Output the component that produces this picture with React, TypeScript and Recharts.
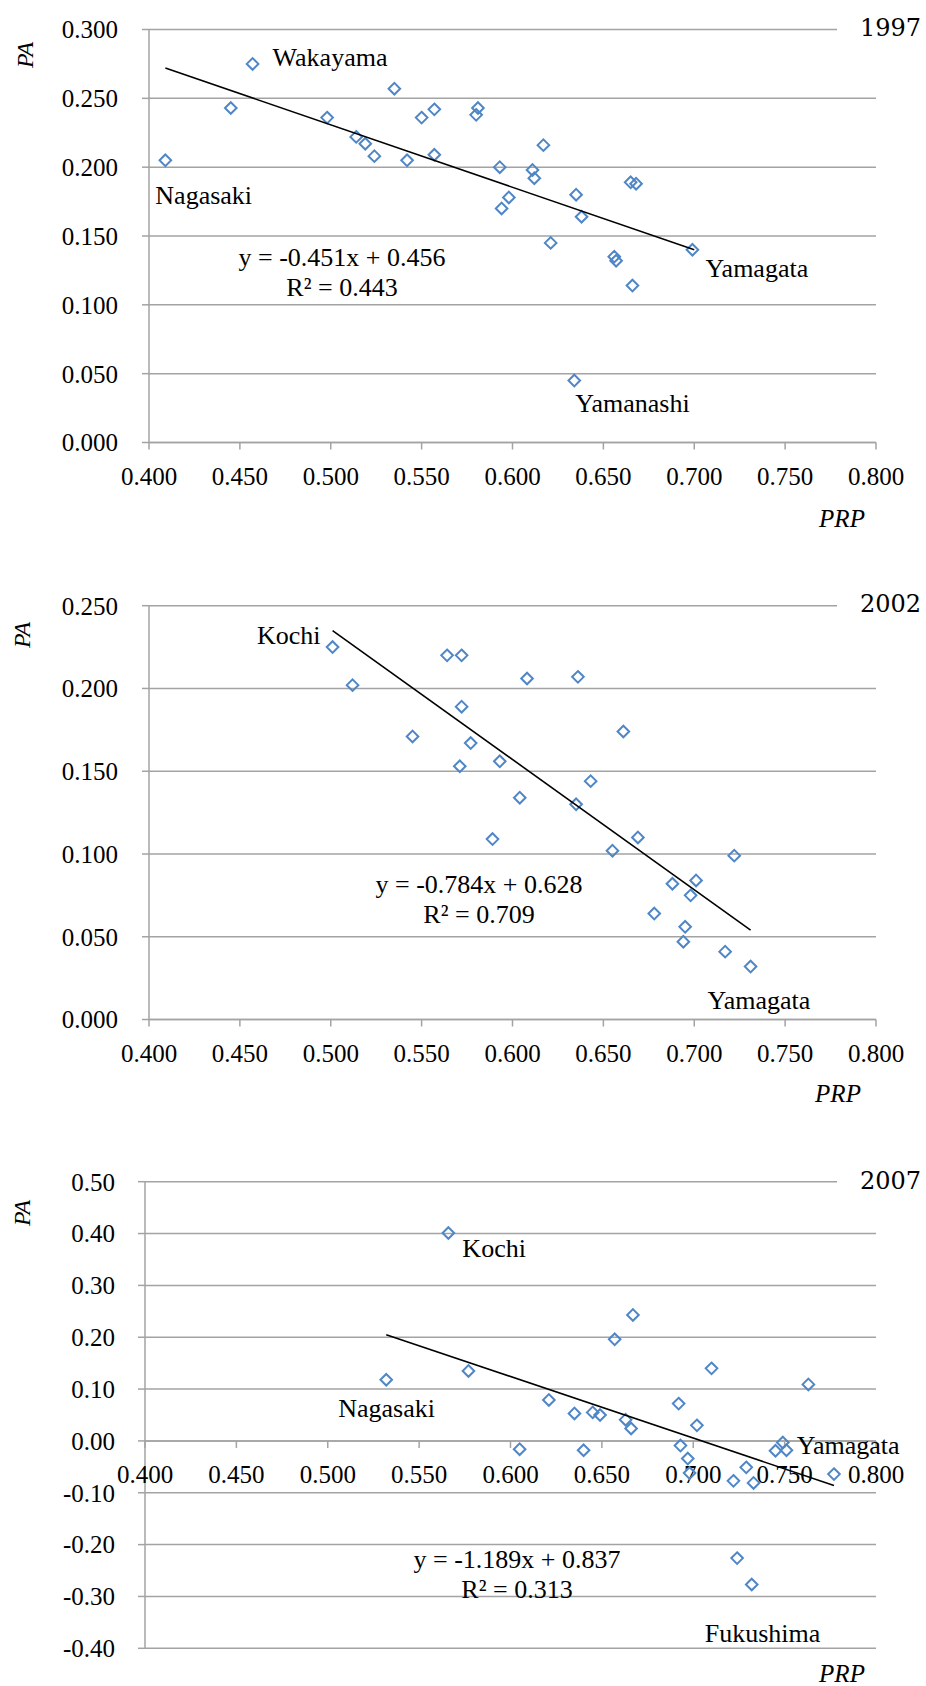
import React from "react";
import { ScatterChart, Scatter, XAxis, YAxis, CartesianGrid, ReferenceLine } from "recharts";

const SERIF = '"Liberation Serif", "Times New Roman", serif';
const BLUE = "#4f86c6";
const GRID = "#a3a3a3";

// axis ticks
const prpTicks = [0.4, 0.45, 0.5, 0.55, 0.6, 0.65, 0.7, 0.75, 0.8];
const paTicks1997 = [0, 0.05, 0.1, 0.15, 0.2, 0.25, 0.3];
const paTicks2002 = [0, 0.05, 0.1, 0.15, 0.2, 0.25];
const paTicks2007 = [-0.4, -0.3, -0.2, -0.1, 0, 0.1, 0.2, 0.3, 0.4, 0.5];

// 1997
const prp1997 = [0.409, 0.445, 0.457, 0.498, 0.514, 0.519, 0.524, 0.535, 0.542, 0.55, 0.557, 0.557, 0.58, 0.581, 0.593, 0.598, 0.594, 0.611, 0.612, 0.617, 0.635, 0.638, 0.621, 0.656, 0.657, 0.665, 0.668, 0.666, 0.699, 0.634];
const pa1997 = [0.205, 0.243, 0.275, 0.236, 0.222, 0.217, 0.208, 0.257, 0.205, 0.236, 0.242, 0.209, 0.238, 0.243, 0.2, 0.178, 0.17, 0.198, 0.192, 0.216, 0.18, 0.164, 0.145, 0.135, 0.132, 0.189, 0.188, 0.114, 0.14, 0.045];
const trendX1997 = [0.409, 0.7];
const trendY1997 = [0.272, 0.14];
const names1997 = ["Nagasaki", "Wakayama", "Yamagata", "Yamanashi"];
const nameIdx1997 = [0, 2, 28, 29];

// 2002
const prp2002 = [0.501, 0.512, 0.545, 0.564, 0.572, 0.572, 0.571, 0.577, 0.608, 0.636, 0.661, 0.593, 0.643, 0.604, 0.635, 0.669, 0.589, 0.655, 0.722, 0.688, 0.701, 0.698, 0.678, 0.695, 0.694, 0.717, 0.731];
const pa2002 = [0.225, 0.202, 0.171, 0.22, 0.22, 0.189, 0.153, 0.167, 0.206, 0.207, 0.174, 0.156, 0.144, 0.134, 0.13, 0.11, 0.109, 0.102, 0.099, 0.082, 0.084, 0.075, 0.064, 0.056, 0.047, 0.041, 0.032];
const trendX2002 = [0.501, 0.731];
const trendY2002 = [0.235, 0.054];
const names2002 = ["Kochi", "Yamagata"];
const nameIdx2002 = [0, 26];

// 2007
const prp2007 = [0.566, 0.532, 0.577, 0.667, 0.657, 0.71, 0.763, 0.621, 0.635, 0.645, 0.649, 0.663, 0.666, 0.692, 0.702, 0.605, 0.64, 0.693, 0.697, 0.698, 0.722, 0.729, 0.733, 0.745, 0.749, 0.751, 0.777, 0.724, 0.732];
const pa2007 = [0.401, 0.118, 0.135, 0.243, 0.196, 0.14, 0.109, 0.079, 0.053, 0.055, 0.05, 0.041, 0.024, 0.072, 0.03, -0.016, -0.018, -0.009, -0.034, -0.062, -0.077, -0.051, -0.081, -0.019, -0.003, -0.018, -0.064, -0.226, -0.277];
const trendX2007 = [0.532, 0.777];
const trendY2007 = [0.205, -0.086];
const names2007 = ["Kochi", "Nagasaki", "Yamagata", "Fukushima"];
const nameIdx2007 = [0, 1, 24, 28];

type Anchor = "start" | "middle" | "end";
// label placement relative to its point: dx, dy, anchor
const labelOffsets: Record<string, [number, number, Anchor]> = {
  "1997:Nagasaki": [-10, 35, "start"],
  "1997:Wakayama": [20, -6, "start"],
  "1997:Yamagata": [13, 19, "start"],
  "1997:Yamanashi": [1, 23, "start"],
  "2002:Kochi": [-12, -12, "end"],
  "2002:Yamagata": [-43, 34, "start"],
  "2007:Kochi": [14, 15, "start"],
  "2007:Nagasaki": [-48, 29, "start"],
  "2007:Yamagata": [14, 3, "start"],
  "2007:Fukushima": [-47, 49, "start"],
};

const Diamond = (p: any) => {
  const r = 5.8;
  const { cx, cy } = p;
  return (
    <path
      d={`M${cx},${cy - r}L${cx + r},${cy}L${cx},${cy + r}L${cx - r},${cy}Z`}
      fill="none"
      stroke={BLUE}
      strokeWidth={2}
    />
  );
};

const Nothing = () => <g />;

const ZeroTick = (p: any) => (
  <g>
    <line x1={p.cx} y1={p.cy} x2={p.cx} y2={p.cy + 7} stroke={GRID} strokeWidth={1.5} />
    <text x={p.cx} y={p.cy + 34} textAnchor="middle" dominantBaseline="central" fontFamily={SERIF} fontSize={25} fill="#000">
      {p.payload.x.toFixed(3)}
    </text>
  </g>
);

const makeLabel = (year: string) => (p: any) => {
  const o = labelOffsets[`${year}:${p.payload.name}`] || [0, 0, "start"];
  return (
    <text x={p.cx + o[0]} y={p.cy + o[1]} textAnchor={o[2]} dominantBaseline="central" fontFamily={SERIF} fontSize={26} fill="#000">
      {p.payload.name}
    </text>
  );
};

const Txt = ({ x, y, children, italic, rotate, font, size }: any) => (
  <div
    style={{
      position: "absolute",
      left: x,
      top: y,
      transform: `translate(-50%, -50%)${rotate ? " rotate(-90deg)" : ""}`,
      fontFamily: font || SERIF,
      fontSize: size || 26,
      fontStyle: italic ? "italic" : "normal",
      lineHeight: 1,
      whiteSpace: "nowrap",
      color: "#000",
    }}
  >
    {children}
  </div>
);

const Panel = ({ year, prp, pa, ticks, domain, trendX, trendY, names, nameIdx, top, height, margin, yWidth, digits, zeroAxis }: any) => {
  const points = prp.map((x: number, i: number) => ({ x, y: pa[i] }));
  const trend = trendX.map((x: number, i: number) => ({ x, y: trendY[i] }));
  const named = names.map((name: string, i: number) => ({ name, x: prp[nameIdx[i]], y: pa[nameIdx[i]] }));
  const axisTicks = prpTicks.map((x) => ({ x, y: 0 }));
  const tickStyle = { fill: "#000", fontSize: 25, fontFamily: SERIF };
  return (
    <div style={{ position: "absolute", left: 0, top }}>
      <ScatterChart width={926} height={height} margin={margin} style={{ overflow: "visible" }}>
        <CartesianGrid horizontal vertical={false} stroke={GRID} strokeWidth={1.5} />
        <XAxis
          type="number"
          dataKey="x"
          domain={[0.4, 0.8]}
          ticks={prpTicks}
          interval={0}
          hide={zeroAxis}
          height={40}
          tickFormatter={(v: number) => v.toFixed(3)}
          tick={tickStyle}
          tickSize={7}
          tickMargin={18}
          axisLine={{ stroke: GRID, strokeWidth: 1.5 }}
          tickLine={{ stroke: GRID, strokeWidth: 1.5 }}
        />
        <YAxis
          type="number"
          dataKey="y"
          domain={domain}
          ticks={ticks}
          interval={0}
          width={yWidth}
          tickFormatter={(v: number) => (Math.abs(v) < 1e-9 ? 0 : v).toFixed(digits)}
          tick={tickStyle}
          tickSize={7}
          tickMargin={zeroAxis ? 23 : 24}
          axisLine={{ stroke: GRID, strokeWidth: 1.5 }}
          tickLine={{ stroke: GRID, strokeWidth: 1.5 }}
        />
        {zeroAxis && <ReferenceLine y={0} stroke={GRID} strokeWidth={1.5} />}
        {zeroAxis && <Scatter data={axisTicks} shape={ZeroTick} isAnimationActive={false} />}
        <Scatter data={points} shape={Diamond} isAnimationActive={false} />
        <Scatter data={trend} shape={Nothing} line={{ stroke: "#000", strokeWidth: 1.6 }} isAnimationActive={false} />
        <Scatter data={named} shape={makeLabel(year)} isAnimationActive={false} />
      </ScatterChart>
    </div>
  );
};

const YearLabel = ({ y, text }: any) => (
  <div
    style={{
      position: "absolute",
      left: 837,
      top: y - 14,
      width: 89,
      height: 28,
      background: "#fff",
    }}
  >
    <div
      style={{
        position: "absolute",
        right: 5,
        top: 0,
        fontFamily: '"DejaVu Serif", serif',
        fontSize: 24,
        lineHeight: "28px",
        color: "#000",
      }}
    >
      {text}
    </div>
  </div>
);

export default function App() {
  return (
    <div style={{ position: "absolute", left: 0, top: 0, width: 926, height: 1686, background: "#fff", overflow: "hidden" }}>
      <Panel
        year="1997"
        prp={prp1997}
        pa={pa1997}
        ticks={paTicks1997}
        domain={[0, 0.3]}
        trendX={trendX1997}
        trendY={trendY1997}
        names={names1997}
        nameIdx={nameIdx1997}
        top={0}
        height={560}
        margin={{ top: 29.5, right: 50, bottom: 77.5, left: 0 }}
        yWidth={149}
        digits={3}
      />
      <Panel
        year="2002"
        prp={prp2002}
        pa={pa2002}
        ticks={paTicks2002}
        domain={[0, 0.25]}
        trendX={trendX2002}
        trendY={trendY2002}
        names={names2002}
        nameIdx={nameIdx2002}
        top={560}
        height={560}
        margin={{ top: 45.7, right: 50, bottom: 60.5, left: 0 }}
        yWidth={149}
        digits={3}
      />
      <Panel
        year="2007"
        prp={prp2007}
        pa={pa2007}
        ticks={paTicks2007}
        domain={[-0.4, 0.5]}
        trendX={trendX2007}
        trendY={trendY2007}
        names={names2007}
        nameIdx={nameIdx2007}
        top={1120}
        height={566}
        margin={{ top: 61.7, right: 50, bottom: 37.7, left: 0 }}
        yWidth={145}
        digits={2}
        zeroAxis
      />

      <YearLabel y={28} text="1997" />
      <YearLabel y={604} text="2002" />
      <YearLabel y={1181} text="2007" />

      <Txt x={25} y={55} italic rotate size={24}>PA</Txt>
      <Txt x={22} y={635} italic rotate size={24}>PA</Txt>
      <Txt x={22} y={1213} italic rotate size={24}>PA</Txt>

      <Txt x={842} y={518} italic size={25}>PRP</Txt>
      <Txt x={838} y={1093} italic size={25}>PRP</Txt>
      <Txt x={842} y={1673} italic size={25}>PRP</Txt>

      <Txt x={342} y={258}>y = -0.451x + 0.456</Txt>
      <Txt x={342} y={288}>R² = 0.443</Txt>
      <Txt x={479} y={885}>y = -0.784x + 0.628</Txt>
      <Txt x={479} y={915}>R² = 0.709</Txt>
      <Txt x={517} y={1560}>y = -1.189x + 0.837</Txt>
      <Txt x={517} y={1590}>R² = 0.313</Txt>
    </div>
  );
}
